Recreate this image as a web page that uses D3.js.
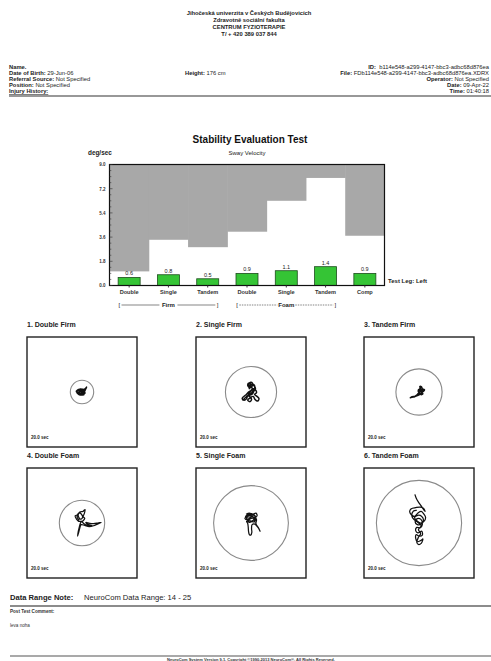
<!DOCTYPE html>
<html>
<head>
<meta charset="utf-8">
<script src="https://cdn.jsdelivr.net/npm/d3@7"></script>
<style>
  html, body { margin: 0; padding: 0; background: #fff; }
  svg { display: block; font-family: "Liberation Sans", Arial, sans-serif; }
</style>
</head>
<body>
<svg id="page" width="491" height="661"></svg>
<script>
// ---- report data ----
const headerLines = ["Jihočeská univerzita v Českých Budějovicích", "Zdravotně sociální fakulta", "CENTRUM FYZIOTERAPIE", "T/ + 420 389 037 844"];
const leftInfo = [["Name.", ""], ["Date of Birth:", " 29-Jun-06"], ["Referral Source:", " Not Specified"], ["Position:", " Not Specified"], ["Injury History:", ""]];
const rightInfo = [["ID:", "  b114e548-a299-4147-bbc3-adbc68d876ea"], ["File:", " FDb114e548-a299-4147-bbc3-adbc68d876ea.XDRX"], ["Operator:", " Not Specified"], ["Date:", " 09-Apr-22"], ["Time:", " 01:40:18"]];

// sway velocity (deg/sec) per condition
const conditions = ["Double", "Single", "Tandem", "Double", "Single", "Tandem", "Comp"];
const swayVelocity = [0.6, 0.8, 0.5, 0.9, 1.1, 1.4, 0.9];
const normalLimit = [1.05, 3.4, 2.85, 4.0, 6.3, 8.0, 3.7];
const yTicks = [0, 1.8, 3.6, 5.4, 7.2, 9.0];

// COG sway traces (x, y), one per trial
const panelTitles = ["1. Double Firm", "2. Single Firm", "3. Tandem Firm", "4. Double Foam", "5. Single Foam", "6. Tandem Foam"];
const trialDuration = ["20.0 sec", "20.0 sec", "20.0 sec", "20.0 sec", "20.0 sec", "20.0 sec"];
const limitRadius = [4.25, 9.3, 8.4, 8.25, 13.6, 15.5];
const trace1 = [[-2.0,0.2],[-1.2,0.8],[-0.4,0.5],[0.3,1.0],[0.8,0.4],[0.2,-0.3],[-0.9,-0.6],[-1.8,-0.2],[-1.5,0.6],[-0.6,1.1],[0.5,0.7],[1.0,-0.2],[0.4,-1.0],[-0.5,-0.9],[-1.4,-0.5],[-2.1,0.3],[-1.0,0.4],[0.0,-0.2],[0.9,0.2],[1.3,1.0],[1.7,1.8],[1.2,1.2],[0.6,0.9],[-0.3,0.2],[-1.2,-0.1],[-0.6,-0.7],[0.4,-0.6],[1.1,-0.4],[0.7,0.3],[-0.2,0.8],[-1.3,0.9],[-1.9,0.0],[-1.1,-0.9],[0.1,-1.1],[0.8,-0.8],[0.3,0.0],[-0.8,0.3],[-1.6,-0.6],[-0.4,-0.4],[0.6,0.1],[-0.5,0.6]];
const trace2 = [[-0.5,1.0],[-0.8,2.4],[-0.3,3.5],[0.5,3.2],[0.3,2.0],[-0.6,1.6],[-1.2,2.6],[-0.7,3.3],[0.2,2.6],[1.2,2.2],[1.6,1.2],[1.0,0.3],[0.0,0.5],[-0.9,0.0],[-1.6,-0.8],[-2.6,-1.6],[-3.2,-2.4],[-2.5,-3.0],[-1.6,-2.4],[-1.2,-1.4],[-0.3,-1.8],[0.2,-2.8],[-0.5,-3.5],[-1.2,-2.9],[-0.4,-2.2],[0.8,-1.6],[1.4,-2.6],[2.4,-3.3],[2.9,-2.4],[2.2,-1.6],[1.3,-0.9],[2.0,-0.2],[1.6,0.8],[0.6,1.2],[-0.2,0.2],[-1.0,-1.0],[0.0,-1.0],[0.9,0.0],[0.4,1.5],[-0.4,2.2],[0.8,2.8],[1.4,1.8],[0.2,-0.4],[-1.8,-1.8],[-2.8,-2.8]];
const trace3 = [[0.0,0.2],[0.5,1.2],[0.3,2.0],[0.9,1.9],[1.2,1.2],[2.0,0.8],[1.6,0.2],[0.9,0.0],[1.4,-0.6],[0.8,-1.0],[0.2,-0.4],[-0.3,0.4],[0.1,1.0],[0.8,0.6],[1.5,0.6],[1.0,-0.3],[0.3,-0.9],[-0.6,-1.3],[-1.6,-1.7],[-2.6,-1.9],[-3.2,-2.1],[-2.5,-1.7],[-1.4,-1.5],[-0.6,-0.9],[0.0,-0.3],[0.6,0.3],[1.1,1.4],[0.6,1.6],[0.2,0.6],[1.2,0.2],[0.5,-0.5],[-0.2,-0.1]];
const trace4 = [[-1.0,1.0],[-1.8,2.2],[-1.2,3.6],[-0.2,3.2],[0.2,2.0],[-0.6,1.4],[-1.4,2.8],[-0.8,4.0],[0.3,4.2],[1.1,4.9],[0.8,3.3],[0.4,2.4],[1.0,1.6],[0.4,0.8],[-0.4,0.3],[-0.8,-0.8],[-1.1,-2.0],[-1.4,-3.3],[-1.6,-4.8],[-1.2,-3.4],[-0.8,-1.8],[-0.3,-0.6],[1.0,-0.9],[2.6,-1.3],[4.2,-1.0],[5.6,-0.4],[7.0,0.2],[5.8,0.0],[4.2,-0.2],[2.8,-0.1],[1.4,0.2],[2.4,-0.6],[3.6,-0.9],[2.0,-0.9],[0.6,-0.2],[-0.2,0.6],[-1.2,0.6],[-2.0,1.4],[-2.5,2.6],[-1.6,3.0]];
const trace5 = [[-1.8,3.2],[-0.6,3.6],[0.6,3.2],[1.8,3.6],[2.2,2.6],[1.2,2.0],[0.0,2.6],[-1.4,2.4],[-2.2,1.6],[-1.0,1.2],[0.4,1.8],[1.6,1.2],[1.0,0.4],[-0.2,0.8],[-1.6,0.6],[-1.2,-0.2],[-1.0,-1.6],[-0.9,-3.0],[-0.6,-4.2],[-0.1,-4.4],[0.3,-3.4],[0.2,-2.0],[0.4,-0.6],[1.4,-0.4],[2.2,-1.2],[2.8,-2.0],[3.3,-3.0],[2.6,-1.6],[1.8,-0.2],[2.0,1.2],[1.0,2.8],[-0.4,3.0],[-1.6,1.8],[-0.6,0.2],[0.8,1.0],[1.6,2.4],[0.2,3.4],[-1.2,3.0],[-2.0,2.4],[-0.8,1.8],[0.6,2.4],[1.4,0.2]];
const trace6 = [[-1.5,10.4],[-1.0,9.0],[-0.2,7.6],[0.8,6.2],[1.6,5.0],[2.2,4.2],[1.6,5.4],[0.4,5.8],[-1.2,5.6],[-2.8,5.2],[-3.4,4.2],[-2.8,3.0],[-1.6,2.4],[-0.4,3.6],[0.8,4.2],[1.8,3.2],[2.4,2.0],[1.8,0.6],[0.6,0.0],[-0.8,0.8],[-1.6,2.0],[-0.4,2.8],[1.0,2.4],[1.6,1.2],[0.8,-0.4],[-0.6,-0.6],[-1.4,0.4],[-0.6,1.6],[0.6,1.4],[1.2,-0.6],[0.4,-1.8],[-0.8,-1.6],[-1.2,-2.8],[-0.4,-3.6],[1.0,-3.0],[1.2,-4.4],[0.0,-4.8],[-1.0,-4.2],[-1.2,-5.6],[-0.6,-6.8],[0.6,-6.4],[1.4,-5.8],[0.8,-7.4],[-0.2,-7.8],[-0.8,-7.0],[-0.2,-5.2],[0.6,-3.8],[-0.2,-2.4],[0.8,-1.0],[-0.4,0.2],[-1.8,1.2],[-2.6,2.6],[-2.0,4.4],[-0.8,4.6]];
const traces = [trace1, trace2, trace3, trace4, trace5, trace6];

const svg = d3.select("#page");
svg.append("rect").attr("width", 491).attr("height", 661).attr("fill", "#fff");

// ---- header ----
svg.append("g").selectAll("text").data(headerLines).join("text")
  .attr("x", 249).attr("y", (d, i) => 15 + i * 7)
  .attr("text-anchor", "middle").attr("font-size", 5.8).attr("font-weight", "bold").attr("fill", "#222")
  .text(d => d);

const infoY = i => 69 + i * 6;
const leftG = svg.append("g").attr("font-size", 5.8).attr("fill", "#222");
leftInfo.forEach((d, i) => {
  const t = leftG.append("text").attr("x", 9).attr("y", infoY(i));
  t.append("tspan").attr("font-weight", "bold").text(d[0]);
  t.append("tspan").text(d[1]);
  if (i === 4) t.attr("text-decoration", "underline");
});
const hgt = leftG.append("text").attr("x", 185).attr("y", infoY(1));
hgt.append("tspan").attr("font-weight", "bold").text("Height:");
hgt.append("tspan").text(" 176 cm");
rightInfo.forEach((d, i) => {
  const t = leftG.append("text").attr("x", 489).attr("y", infoY(i)).attr("text-anchor", "end").attr("xml:space", "preserve");
  t.append("tspan").attr("font-weight", "bold").text(d[0]);
  t.append("tspan").text(d[1]);
});
svg.append("line").attr("x1", 9).attr("x2", 491).attr("y1", 96).attr("y2", 96).attr("stroke", "#333").attr("stroke-width", 1.2);

// ---- sway velocity chart ----
const plot = { left: 109.5, right: 384.5, top: 164.5, bottom: 285.5 };
const x = d3.scaleBand().domain(d3.range(conditions.length)).range([plot.left, plot.right]).paddingInner(0).paddingOuter(0);
const y = d3.scaleLinear().domain([0, 9]).range([plot.bottom, plot.top]);
const chart = svg.append("g");

chart.append("text").attr("x", 250).attr("y", 143).attr("text-anchor", "middle")
  .attr("font-size", 10).attr("font-weight", "bold").attr("fill", "#111").text("Stability Evaluation Test");
chart.append("text").attr("x", 88).attr("y", 155).attr("font-size", 6.4).attr("font-weight", "bold").attr("fill", "#222").text("deg/sec");
chart.append("text").attr("x", 247).attr("y", 155).attr("text-anchor", "middle").attr("font-size", 6).attr("fill", "#222").text("Sway Velocity");

// shaded region above normal limit
chart.append("g").selectAll("rect").data(normalLimit).join("rect")
  .attr("x", (d, i) => x(i)).attr("width", x.bandwidth() + 0.5)
  .attr("y", y(9)).attr("height", d => y(d) - y(9))
  .attr("fill", "#a8a8a8");

// bars
const barW = x.bandwidth() * 0.56;
chart.append("g").selectAll("rect").data(swayVelocity).join("rect")
  .attr("x", (d, i) => x(i) + (x.bandwidth() - barW) / 2).attr("width", barW)
  .attr("y", d => y(d)).attr("height", d => y(0) - y(d))
  .attr("fill", "#35c435").attr("stroke", "#1d4d1d").attr("stroke-width", 0.8);
chart.append("g").selectAll("text").data(swayVelocity).join("text")
  .attr("x", (d, i) => x(i) + x.bandwidth() / 2).attr("y", d => y(d) - 2)
  .attr("text-anchor", "middle").attr("font-size", 5.5).attr("fill", "#222").text(d => d.toFixed(1));

// frame
chart.append("rect").attr("x", plot.left).attr("y", plot.top).attr("width", plot.right - plot.left).attr("height", plot.bottom - plot.top)
  .attr("fill", "none").attr("stroke", "#111").attr("stroke-width", 1.2);

// y axis
const yAxis = chart.append("g").attr("transform", `translate(${plot.left},0)`)
  .call(d3.axisLeft(y).tickValues(yTicks).tickSize(0).tickPadding(4).tickFormat(d3.format(".1f")));
yAxis.select(".domain").remove();
yAxis.selectAll("text").attr("font-size", 4.5).attr("font-weight", "bold").attr("font-family", "Liberation Sans, Arial, sans-serif").attr("fill", "#333");
chart.append("g").selectAll("line").data(d3.range(0, 9.01, 0.45)).join("line")
  .attr("x1", plot.left).attr("x2", (d, i) => plot.left + (i % 4 === 0 ? 3 : 1.8))
  .attr("y1", d => y(d)).attr("y2", d => y(d)).attr("stroke", "#333").attr("stroke-width", 0.6);

// x axis
const xAxis = chart.append("g").attr("transform", `translate(0,${plot.bottom})`)
  .call(d3.axisBottom(x).tickSize(2).tickPadding(3).tickFormat(i => conditions[i]));
xAxis.select(".domain").remove();
xAxis.selectAll("line").attr("stroke", "#333");
xAxis.selectAll("text").attr("font-size", 5.6).attr("font-weight", "bold").attr("font-family", "Liberation Sans, Arial, sans-serif").attr("fill", "#333");

// surface group brackets
const groups = [{ label: "Firm", from: 0, to: 2, dash: null }, { label: "Foam", from: 3, to: 5, dash: "1.5,1" }];
groups.forEach(g => {
  const x0 = x(g.from) + 9, x1 = x(g.to) + x.bandwidth() - 9, cx = (x0 + x1) / 2, yy = 305;
  chart.append("text").attr("x", x0).attr("y", yy + 2).attr("font-size", 6).attr("fill", "#222").text("[");
  chart.append("text").attr("x", x1).attr("y", yy + 2).attr("text-anchor", "end").attr("font-size", 6).attr("fill", "#222").text("]");
  chart.append("text").attr("x", cx).attr("y", yy + 2).attr("text-anchor", "middle").attr("font-size", 6).attr("font-weight", "bold").attr("fill", "#222").text(g.label);
  [[x0 + 3, cx - 9], [cx + 9, x1 - 3]].forEach(([a, b]) => {
    chart.append("line").attr("x1", a).attr("x2", b).attr("y1", yy).attr("y2", yy)
      .attr("stroke", "#333").attr("stroke-width", 0.6).attr("stroke-dasharray", g.dash);
  });
});
chart.append("text").attr("x", 388).attr("y", 283).attr("font-size", 6).attr("font-weight", "bold").attr("fill", "#222").text("Test Leg: Left");

// ---- COG sway panels ----
const panelSize = 110;
const colX = [27, 196, 364];
const rowY = [337, 468];
const line = d3.line().curve(d3.curveCatmullRom.alpha(0.5));
traces.forEach((tr, i) => {
  const px = colX[i % 3], py = rowY[Math.floor(i / 3)];
  const sx = d3.scaleLinear().domain([-20, 20]).range([px, px + panelSize]);
  const sy = d3.scaleLinear().domain([-20, 20]).range([py + panelSize, py]);
  const g = svg.append("g");
  g.append("text").attr("x", px).attr("y", py - 10.5).attr("font-size", 7).attr("font-weight", "bold").attr("fill", "#222").text(panelTitles[i]);
  g.append("rect").attr("x", px).attr("y", py).attr("width", panelSize).attr("height", panelSize)
    .attr("fill", "#fff").attr("stroke", "#222").attr("stroke-width", 1.4);
  g.append("circle").attr("cx", sx(0)).attr("cy", sy(0)).attr("r", sx(limitRadius[i]) - sx(0))
    .attr("fill", "none").attr("stroke", "#8a8a8a").attr("stroke-width", 1.1);
  g.append("path").attr("d", line(tr.map(p => [sx(p[0]), sy(p[1])])))
    .attr("fill", "none").attr("stroke", "#111").attr("stroke-width", i < 3 ? 1.5 : 1.25).attr("stroke-linejoin", "round");
  g.append("text").attr("x", px + 4).attr("y", py + panelSize - 8.5).attr("font-size", 4.5).attr("font-weight", "bold").attr("fill", "#222").text(trialDuration[i]);
});

// ---- notes ----
const note = svg.append("text").attr("x", 10).attr("y", 600).attr("font-size", 7.6).attr("fill", "#222");
note.append("tspan").attr("font-weight", "bold").text("Data Range Note:");
note.append("tspan").attr("x", 84).text("NeuroCom Data Range: 14 - 25");
svg.append("line").attr("x1", 10).attr("x2", 491).attr("y1", 606).attr("y2", 606).attr("stroke", "#666").attr("stroke-width", 1.4);
svg.append("text").attr("x", 10).attr("y", 612.5).attr("font-size", 4.6).attr("font-weight", "bold").attr("fill", "#333").text("Post Test Comment:");
svg.append("text").attr("x", 10).attr("y", 626.5).attr("font-size", 4.6).attr("fill", "#333").text("leva noha");
svg.append("line").attr("x1", 10).attr("x2", 491).attr("y1", 656).attr("y2", 656).attr("stroke", "#555").attr("stroke-width", 1.2);
svg.append("text").attr("x", 251).attr("y", 660.5).attr("text-anchor", "middle").attr("font-size", 4).attr("font-weight", "bold").attr("fill", "#333")
  .text("NeuroCom System Version 9.1, Copyright ©1990-2013 NeuroCom®, All Rights Reserved.");
</script>
</body>
</html>
